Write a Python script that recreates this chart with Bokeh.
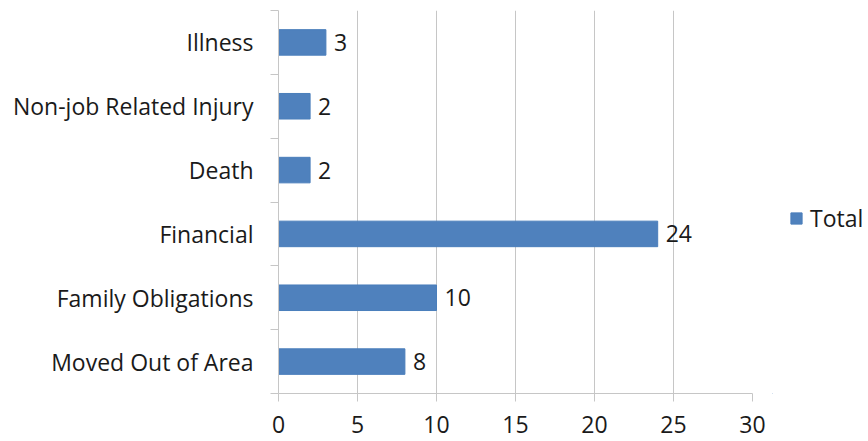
from bokeh.plotting import figure
from bokeh.layouts import row
from bokeh.models import ColumnDataSource, FixedTicker, Range1d
from bokeh.core.properties import value
from bokeh.embed import file_html
from bokeh.resources import INLINE

# Data (top to bottom as in the chart)
categories = ["Illness", "Non-job Related Injury", "Death", "Financial",
              "Family Obligations", "Moved Out of Area"]
totals = [3, 2, 2, 24, 10, 8]
x_ticks = [0, 5, 10, 15, 20, 25, 30]
series_name = "Total"

FONT = "Open Sans"
FS = "23px"
TXT = "#1a1a1a"
GRID = "#c6c6c6"
BAR = "#4f81bd"
EDGE = "#4a7ebb"

n = len(categories)
ypos = [n - i - 0.5 for i in range(n)]

src = ColumnDataSource(dict(y=ypos, total=totals, label=[str(v) for v in totals]))

p = figure(width=772, height=441, output_backend="svg", toolbar_location=None,
           x_range=Range1d(0, 30), y_range=Range1d(0, n),
           min_border_left=278, min_border_right=20, min_border_top=10,
           min_border_bottom=48)
p.outline_line_color = None
p.background_fill_color = "white"
p.border_fill_color = "white"

p.hbar(y="y", right="total", left=0, height=0.4, source=src,
       fill_color=BAR, line_color=EDGE, line_width=1)

p.text(x="total", y="y", text="label", source=src, x_offset=8,
       text_baseline="middle", text_align="left",
       text_font=value(FONT), text_font_size=FS, text_color=TXT)

# x axis
p.xaxis.ticker = FixedTicker(ticks=x_ticks)
p.xaxis.axis_line_color = GRID
p.xaxis.major_tick_line_color = GRID
p.xaxis.major_tick_out = 8
p.xaxis.major_tick_in = 0
p.xaxis.minor_tick_line_color = None
p.xaxis.major_label_text_font = FONT
p.xaxis.major_label_text_font_size = FS
p.xaxis.major_label_text_color = TXT
p.xaxis.major_label_text_line_height = 0.7
p.xaxis.major_label_standoff = 14

# y axis: labels at category centres, ticks at band boundaries
p.yaxis.ticker = FixedTicker(ticks=ypos, minor_ticks=list(range(n + 1)))
p.yaxis.major_label_overrides = {y: c for y, c in zip(ypos, categories)}
p.yaxis.axis_line_color = GRID
p.yaxis.major_tick_line_color = None
p.yaxis.major_tick_out = 0
p.yaxis.major_tick_in = 0
p.yaxis.minor_tick_line_color = GRID
p.yaxis.minor_tick_out = 8
p.yaxis.minor_tick_in = 0
p.yaxis.major_label_text_font = FONT
p.yaxis.major_label_text_font_size = FS
p.yaxis.major_label_text_color = TXT
p.yaxis.major_label_standoff = 17

p.xgrid.grid_line_color = GRID
p.ygrid.grid_line_color = None

# legend panel to the right of the chart (its sample bar sits outside the visible range)
lg = figure(width=96, height=441, output_backend="svg", toolbar_location=None,
            x_range=Range1d(0, 1), y_range=Range1d(0, 1),
            min_border=0)
lg.outline_line_color = None
lg.axis.visible = False
lg.grid.visible = False
lg.hbar(y=[-5], right=[0], left=0, height=0.4, fill_color=BAR, line_color=EDGE,
        line_width=1, legend_label=series_name)
lg.legend.location = (17, 159)
lg.legend.padding = 0
lg.legend.margin = 0
lg.legend.spacing = 0
lg.legend.glyph_width = 14
lg.legend.glyph_height = 14
lg.legend.label_standoff = 7
lg.legend.label_height = 14
lg.legend.label_text_line_height = 1.0
lg.legend.border_line_color = None
lg.legend.background_fill_alpha = 0
lg.legend.label_text_font = FONT
lg.legend.label_text_font_size = FS
lg.legend.label_text_color = TXT

layout = row(p, lg, spacing=0)

open("out.html", "w").write(file_html(layout, INLINE))
